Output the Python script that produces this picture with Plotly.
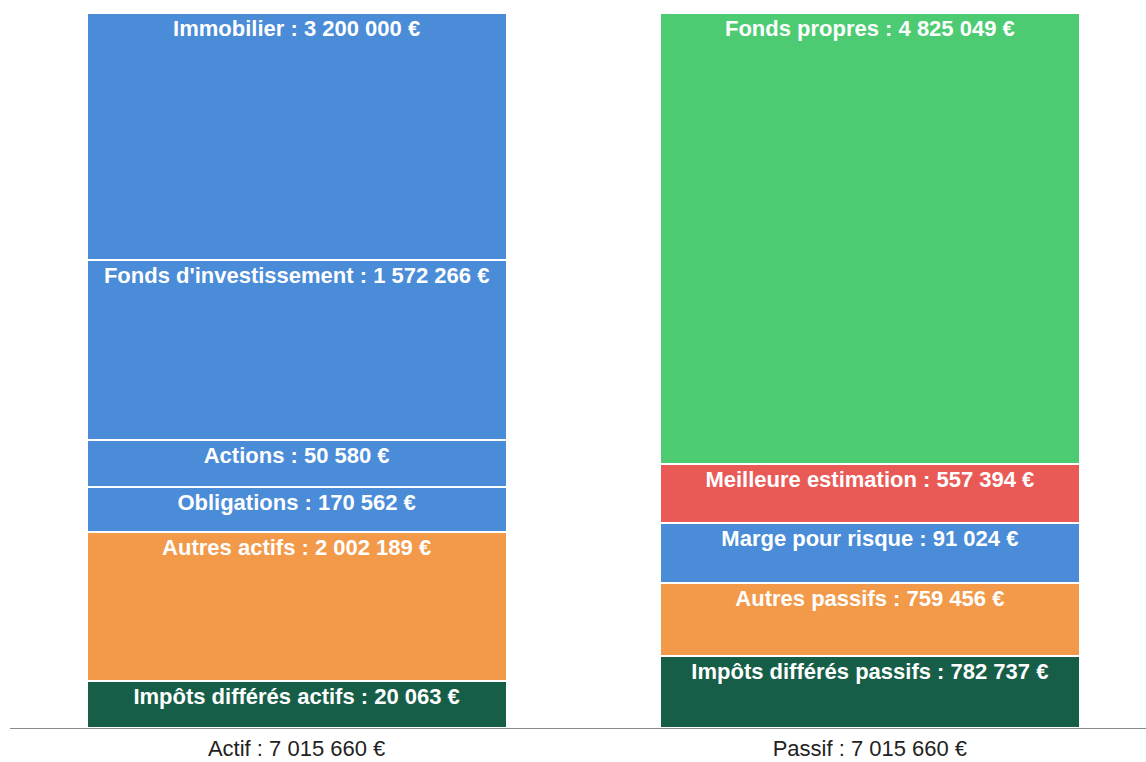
import plotly.graph_objects as go

# --- Data ---
categories = ["Actif", "Passif"]

actif_labels = ["Impôts différés actifs", "Autres actifs", "Obligations", "Actions",
                "Fonds d'investissement", "Immobilier"]
actif_values = [20063, 2002189, 170562, 50580, 1572266, 3200000]
# displayed segment heights (the chart does not draw segments proportionally)
actif_heights = [47, 149, 45, 47, 180, 247]
actif_colors = ["#165e48", "#f29a4a", "#4a8cd8", "#4a8cd8", "#4a8cd8", "#4a8cd8"]

passif_labels = ["Impôts différés passifs", "Autres passifs", "Marge pour risque",
                 "Meilleure estimation", "Fonds propres"]
passif_values = [782737, 759456, 91024, 557394, 4825049]
passif_heights = [72, 73, 60, 59, 451]
passif_colors = ["#165e48", "#f29a4a", "#4a8cd8", "#e95a57", "#4ccb72"]


def fmt(v):
    return f"{v:,}".replace(",", " ") + " €"


cat_text = [
    f"{categories[0]} : {fmt(sum(actif_values))}",
    f"{categories[1]} : {fmt(sum(passif_values))}",
]

fig = go.Figure()

FONT = "Liberation Sans, Arial, sans-serif"


def add_segments(cat, labels, values, heights, colors):
    for lab, val, h, col in zip(labels, values, heights, colors):
        fig.add_trace(go.Bar(
            x=[cat], y=[h],
            text=[f"{lab} : {fmt(val)}"],
            textposition="inside",
            insidetextanchor="end",
            textangle=0,
            constraintext="none",
            textfont=dict(color="white", size=22, family=FONT, weight="bold"),
            marker=dict(color=col, line=dict(color="white", width=2)),
            width=0.733,
            hoverinfo="skip",
            showlegend=False,
        ))


add_segments(cat_text[0], actif_labels, actif_values, actif_heights, actif_colors)
add_segments(cat_text[1], passif_labels, passif_values, passif_heights, passif_colors)

fig.update_layout(
    barmode="stack",
    width=1146, height=762,
    margin=dict(l=10, r=0, t=13, b=34),
    paper_bgcolor="white", plot_bgcolor="white",
    font=dict(family=FONT),
    xaxis=dict(
        type="category",
        categoryorder="array", categoryarray=cat_text,
        range=[-0.5, 1.4817],
        showline=True, linecolor="#8a8a8a", linewidth=1,
        showgrid=False, ticks="",
        automargin=False,
        ticklabelstandoff=1,
        tickfont=dict(size=22, color="#222222", family=FONT),
        fixedrange=True,
    ),
    yaxis=dict(
        range=[0, sum(actif_heights)],
        visible=False, showgrid=False, zeroline=False,
        fixedrange=True,
    ),
)

fig.write_html("out.html")
